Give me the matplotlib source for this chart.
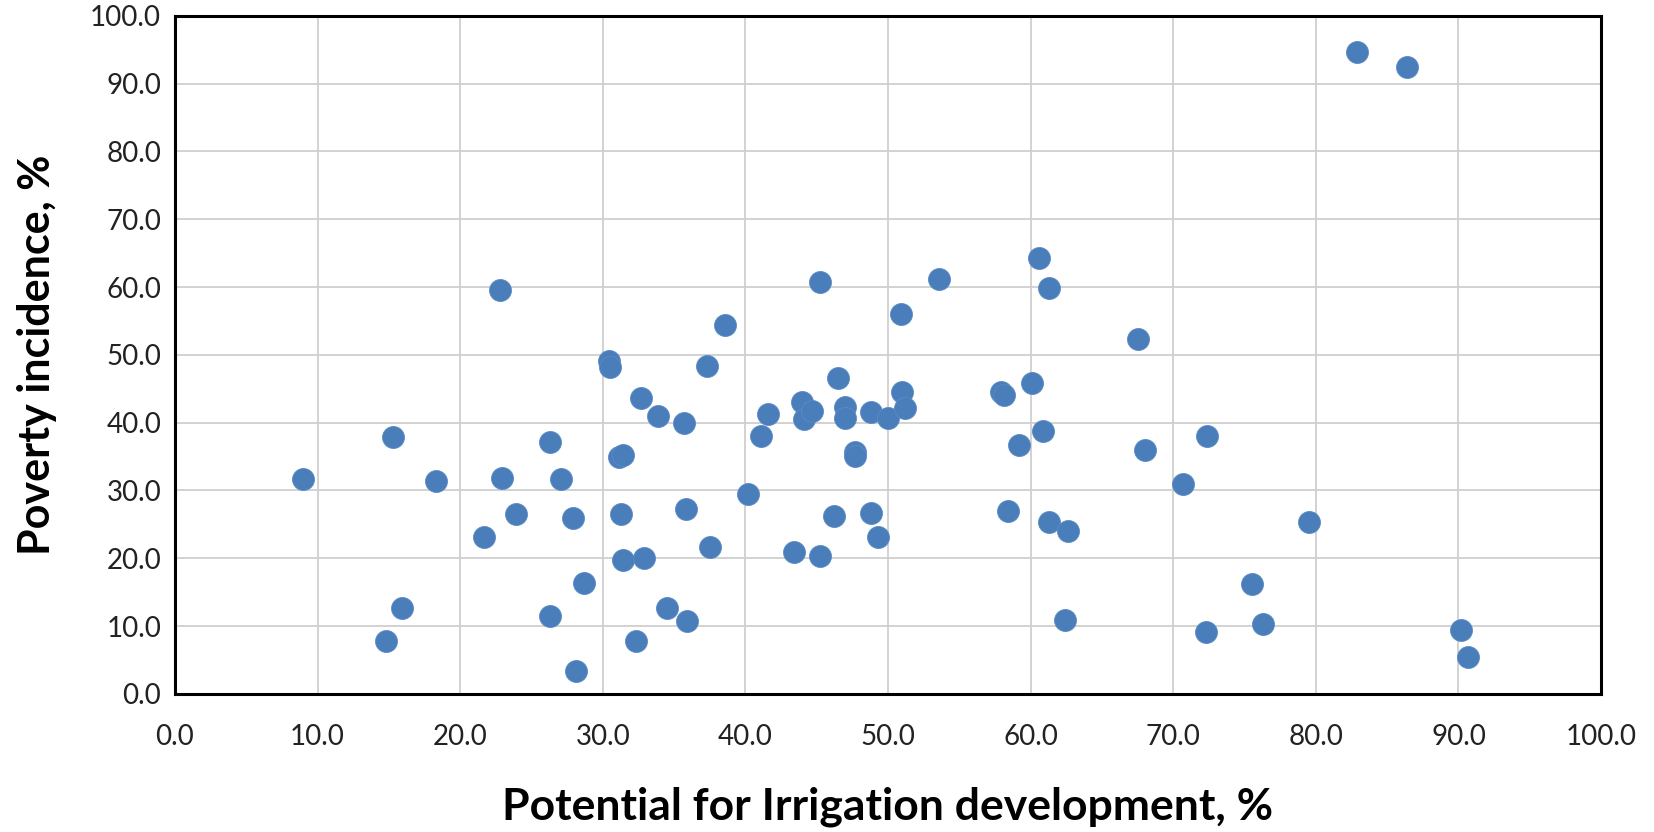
import matplotlib
matplotlib.use('Agg')
import matplotlib.pyplot as plt
from matplotlib.ticker import MultipleLocator, FormatStrFormatter

# Potential for irrigation development (%) vs poverty incidence (%)
irrigation = [
    8.95, 15.3, 14.8, 15.9, 18.3, 21.7, 22.8, 22.9, 23.9, 26.3,
    26.3, 27.1, 27.9, 28.7, 28.1, 30.4, 30.5, 31.1, 31.4, 31.3,
    31.4, 32.3, 32.7, 32.9, 33.9, 34.5, 35.7, 35.8, 35.9, 37.3,
    37.5, 38.6, 40.2, 41.1, 41.6, 43.4, 44.0, 44.1, 44.7, 45.2,
    45.2, 46.2, 46.5, 47.0, 47.0, 47.7, 47.7, 48.8, 48.8, 49.3,
    50.0, 50.9, 51.0, 51.2, 53.6, 57.9, 58.1, 58.4, 59.2, 60.1,
    60.6, 60.9, 61.3, 61.3, 62.4, 62.6, 67.5, 68.0, 70.7, 72.3,
    72.4, 75.5, 76.3, 79.5, 82.9, 86.4, 90.2, 90.7,
]
poverty = [
    31.7, 37.9, 7.8, 12.6, 31.4, 23.2, 59.6, 31.8, 26.5, 37.1,
    11.5, 31.7, 25.9, 16.4, 3.4, 49.1, 48.2, 34.9, 35.3, 26.5,
    19.7, 7.8, 43.7, 20.0, 41.0, 12.6, 39.9, 27.3, 10.8, 48.4,
    21.7, 54.4, 29.5, 38.1, 41.3, 20.9, 43.1, 40.6, 41.7, 60.7,
    20.4, 26.2, 46.6, 42.3, 40.7, 35.7, 35.1, 41.5, 26.7, 23.1,
    40.7, 56.0, 44.5, 42.1, 61.2, 44.5, 44.1, 27.0, 36.7, 45.9,
    64.3, 38.8, 59.9, 25.4, 10.9, 24.0, 52.3, 35.9, 30.9, 9.2,
    38.1, 16.2, 10.3, 25.3, 94.7, 92.5, 9.4, 5.5,
]

plt.rcParams['font.family'] = ['Lato', 'DejaVu Sans']

fig = plt.figure(figsize=(16.54, 8.32), dpi=100)
ax = fig.add_axes([0.1058, 0.166, 0.8622, 0.815])

ax.scatter(irrigation, poverty, s=250, color='#4A7EBB', edgecolors='#5B8AC4',
           linewidths=0.6, zorder=3, clip_on=False)

ax.set_xlim(0, 100)
ax.set_ylim(0, 100)
ax.xaxis.set_major_locator(MultipleLocator(10))
ax.yaxis.set_major_locator(MultipleLocator(10))
ax.xaxis.set_major_formatter(FormatStrFormatter('%.1f'))
ax.yaxis.set_major_formatter(FormatStrFormatter('%.1f'))

ax.grid(True, color='#CFCFCF', linewidth=1.3, zorder=0)
ax.set_axisbelow(True)
for s in ax.spines.values():
    s.set_linewidth(2.2)
    s.set_color('black')

ax.tick_params(axis='both', length=0, labelsize=20, colors='#222222')
ax.tick_params(axis='x', pad=22)
ax.tick_params(axis='y', pad=10)

ax.set_xlabel('Potential for Irrigation development, %', fontsize=32,
              fontweight='bold', labelpad=26)
ax.set_ylabel('Poverty incidence, %', fontsize=31, fontweight='bold', labelpad=24)

fig.savefig('out.png', dpi=100)
